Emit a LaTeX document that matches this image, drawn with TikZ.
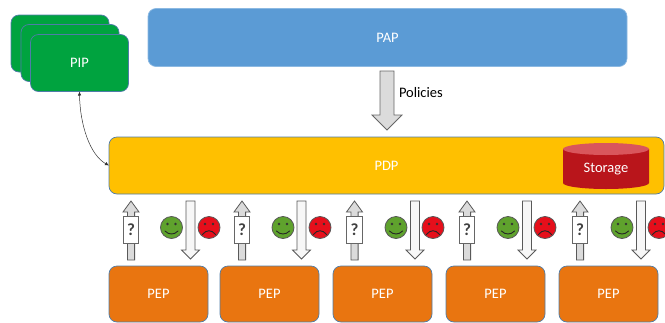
\documentclass[tikz,border=0pt]{standalone}
\usepackage{fontspec}
\setmainfont{Carlito}
\usetikzlibrary{arrows.meta}
\definecolor{papblue}{HTML}{5B9BD5}
\definecolor{pdpgold}{HTML}{FFC000}
\definecolor{pipgreen}{HTML}{00A33F}
\definecolor{peporange}{HTML}{E97510}
\definecolor{edgeblue}{HTML}{4F7CA8}
\definecolor{cylred}{HTML}{B9151B}
\definecolor{cyltop}{HTML}{D9565C}
\definecolor{smgreen}{HTML}{5FA22D}
\definecolor{smred}{HTML}{E60F1B}
\tikzset{
  x=1pt,y=-1pt,
  every node/.style={inner sep=0pt,outer sep=0pt},
  boxbase/.style={draw=edgeblue,line width=.7pt,rounded corners=8pt,anchor=north west,text=white,font=\fontsize{14.5}{16}\selectfont},
  papbox/.style={boxbase,fill=papblue,draw=papblue!70!white,minimum width=479pt,minimum height=58pt},
  pdpbox/.style={boxbase,fill=pdpgold,minimum width=555pt,minimum height=57pt},
  pipbox/.style={boxbase,fill=pipgreen,minimum width=98pt,minimum height=57pt},
  pepbox/.style={boxbase,fill=peporange,minimum width=99pt,minimum height=56pt},
  grayarrow/.style={draw=black!65,line width=.8pt,fill=black!14,line join=miter},
  whitearrow/.style={draw=black!65,line width=.8pt,fill=black!3,line join=miter},
  qbox/.style={draw=black!60,line width=.8pt,fill=white,minimum width=15.5pt,minimum height=27pt,font=\fontsize{17}{18}\bfseries\selectfont,text=black!75},
  smile/.style={circle,draw=black!65,line width=.8pt,minimum size=22pt},
  face/.style={draw=black!85,line width=.9pt,line cap=round},
  eye/.style={fill=black!80,draw=none},
  link/.style={draw=black!80,line width=.5pt,{Latex[length=4pt,width=3.5pt]}-{Latex[length=4pt,width=3.5pt]}},
  plainlabel/.style={font=\fontsize{14.5}{16}\selectfont,text=black,anchor=west}
}
\newcommand{\pepunit}[5]{%
  \draw[grayarrow] (#1-3.6,260) -- (#1+3.6,260) -- (#1+3.6,212) -- (#1+8,212) -- (#1,201) -- (#1-8,212) -- (#1-3.6,212) -- cycle;
  \node[qbox] (q#5) at (#1,230) {?};
  \node[smile,fill=smgreen] (g#5) at (#2,227.5) {};
  \fill[eye] (#2-4,224) circle (1.3pt) (#2+4,224) circle (1.3pt);
  \draw[face] (#2-6.5,231) .. controls (#2-3,235) and (#2+3,235) .. (#2+6.5,231);
  \node[smile,fill=smred] (r#5) at (#3,227.5) {};
  \fill[eye] (#3-4,224) circle (1.3pt) (#3+4,224) circle (1.3pt);
  \draw[face] (#3-6.5,234.5) .. controls (#3-3,229.5) and (#3+3,229.5) .. (#3+6.5,234.5);
  \draw[whitearrow] (#4-4.5,201) -- (#4+4.5,201) -- (#4+4.5,250) -- (#4+9,250) -- (#4,259) -- (#4-9,250) -- (#4-4.5,250) -- cycle;
}
\begin{document}
\begin{tikzpicture}
\useasboundingbox (0,0) rectangle (665,322);
\clip (0,0) rectangle (665,322);
\node[pipbox] (pipa) at (11,15) {};
\node[pipbox] (pipb) at (21,24.5) {};
\node[pipbox] (pip) at (30.5,34.5) {PIP};
\node[papbox] (pap) at (148,8.5) {PAP};
\node[pdpbox] (pdp) at (109,137) {PDP};
\foreach \px/\pid in {109/1,220/2,333/3,446/4,559/5}
  \node[pepbox] (pep\pid) at (\px,266) {PEP};
\draw[grayarrow,draw=black!60] (380,71) -- (394,71) -- (394,115) -- (402,115) -- (387,130) -- (372,115) -- (380,115) -- cycle;
\node[plainlabel] (pol) at (399,93) {Policies};
\fill[cylred] (563,149) -- (563,183) arc[start angle=180,end angle=360,x radius=43pt,y radius=6pt] -- (649,149) -- cycle;
\fill[cyltop] (606,149) ellipse[x radius=43pt,y radius=6pt];
\node[text=white,font=\fontsize{14.5}{16}\selectfont] (stor) at (606,169) {Storage};
\draw[link] (pip.south) .. controls (80,125) and (90,155) .. (pdp.west);
\pepunit{131}{171.5}{209}{190.5}{1}
\pepunit{242}{283}{320}{301.5}{2}
\pepunit{354.5}{396}{433}{415}{3}
\pepunit{467}{508}{545}{527}{4}
\pepunit{580}{622}{659}{641}{5}
\end{tikzpicture}
\end{document}
